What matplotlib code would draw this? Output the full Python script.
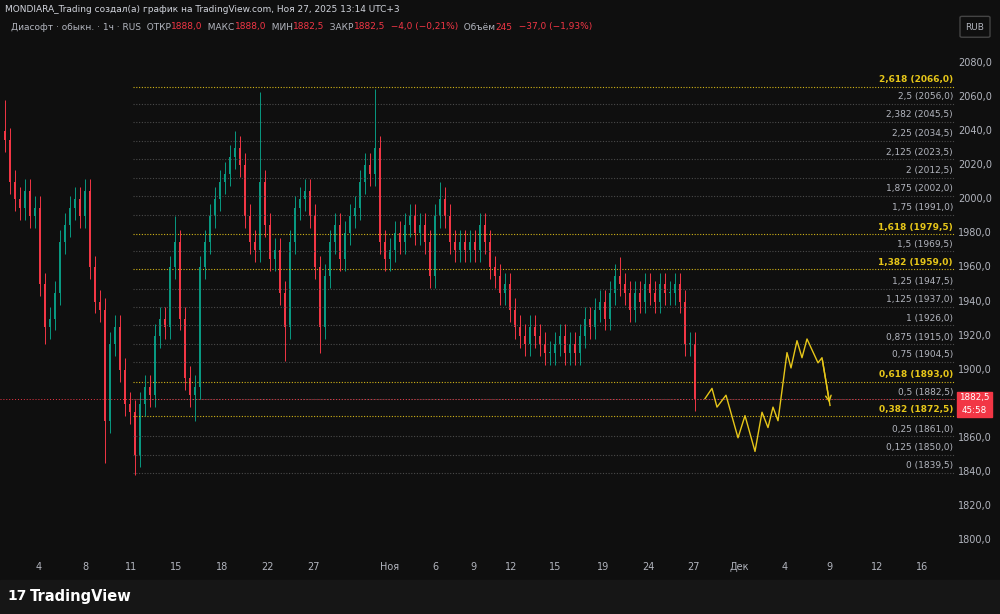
import matplotlib
matplotlib.use("Agg")
import matplotlib.pyplot as plt
from matplotlib.patches import Rectangle, FancyBboxPatch

# ---- data ----
bar_x = list(range(5, 700, 5))
closes = [2035,2010,2000,1995,2005,1990,1995,1950,1925,1930,1945,1975,1985,1995,2000,1990,2005,1960,1940,1935,
          1870,1915,1925,1900,1880,1875,1850,1880,1890,1885,1920,1930,1925,1960,1975,1930,1895,1885,1890,1960,
          1975,1990,2000,2010,2015,2025,2030,2020,1990,1975,1970,2010,1985,1965,1970,1945,1925,1975,1995,2000,
          2005,1990,1960,1925,1955,1975,1985,1965,1980,1990,1995,2010,2020,2015,2030,1975,1965,1970,1980,1975,
          1985,1990,1980,1985,1975,1955,1990,2000,1990,1975,1970,1975,1970,1975,1970,1985,1975,1960,1955,1945,
          1950,1935,1925,1920,1915,1925,1920,1915,1910,1910,1915,1920,1910,1915,1910,1920,1930,1925,1935,1940,
          1930,1945,1955,1950,1945,1935,1945,1940,1950,1945,1940,1950,1945,1945,1950,1940,1915,1915,1882.5]
first_open = 2040
high_spikes = {5: 2058, 260: 2063, 375: 2065, 440: 2010, 620: 1966, 235: 2040, 175: 1990, 480: 1990}
low_spikes = {135: 1838, 105: 1845, 285: 1905, 320: 1910, 195: 1870, 550: 1905, 45: 1915}
wick = 7

fib_ratios = ["2,618", "2,5", "2,382", "2,25", "2,125", "2", "1,875", "1,75", "1,618", "1,5", "1,382",
              "1,25", "1,125", "1", "0,875", "0,75", "0,618", "0,5", "0,382", "0,25", "0,125", "0"]
fib_prices = [2066.0, 2056.0, 2045.5, 2034.5, 2023.5, 2012.5, 2002.0, 1991.0, 1979.5, 1969.5, 1959.0,
              1947.5, 1937.0, 1926.0, 1915.0, 1904.5, 1893.0, 1882.5, 1872.5, 1861.0, 1850.0, 1839.5]
fib_gold = ["2,618", "1,618", "1,382", "0,618", "0,382"]

path_x = [705, 712, 717, 726, 738, 745, 755, 762, 768, 773, 778, 787, 791, 797, 802, 807, 818, 822, 830]
path_p = [1883, 1889, 1878, 1885, 1860, 1873, 1852, 1875, 1866, 1878, 1870, 1910, 1901, 1917, 1907, 1918, 1904, 1907, 1879]

xtick_pos = [39, 85, 131, 176, 222, 268, 314, 390, 435, 473, 511, 555, 603, 648, 693, 739, 785, 829, 877, 922]
xtick_lab = ["4", "8", "11", "15", "18", "22", "27", "Ноя", "6", "9", "12", "15", "19", "24", "27", "Дек", "4", "9", "12", "16"]
ytick_vals = list(range(1800, 2100, 20))
last_price = 1882.5

BG = "#0f0f0f"
GREEN = "#089981"
RED = "#f23645"
GOLD = "#e6c619"
GREY = "#4a4a4a"
TXT = "#b2b5be"

fig = plt.figure(figsize=(10, 6.14), dpi=100, facecolor=BG)
ax = fig.add_axes([0, 1 - 555 / 614, 0.955, (555 - 40) / 614], facecolor=BG)
ax.set_xlim(0, 955)
ax.set_ylim(1791.2, 2093.5)
for s in ax.spines.values():
    s.set_visible(False)
ax.set_xticks([]); ax.set_yticks([])

# fib levels
for r, p in zip(fib_ratios, fib_prices):
    g = r in fib_gold
    ax.hlines(p, 133, 955, colors=GOLD if g else GREY, linestyles=(0, (1, 1.5)), lw=0.8, alpha=0.9 if g else 1)
    ax.text(953, p + 1.5, f"{r} ({p:.1f})".replace(".", ","), ha="right", va="bottom", fontsize=6.5,
            color=GOLD if g else TXT, fontweight="bold" if g else "normal")

# candles
prev = first_open
for x, c in zip(bar_x, closes):
    o = prev
    col = GREEN if c >= o else RED
    hi = max(o, c) + wick
    lo = min(o, c) - wick
    hi = max(hi, high_spikes.get(x, hi))
    lo = min(lo, low_spikes.get(x, lo))
    ax.vlines(x, lo, hi, color=col, lw=0.7)
    ax.add_patch(Rectangle((x - 1.1, min(o, c)), 2.2, max(abs(c - o), 0.6), color=col, lw=0))
    prev = c

# current price line
ax.axhline(last_price, color=RED, lw=0.7, ls=(0, (1, 2)))

# projection path
ax.plot(path_x, path_p, color=GOLD, lw=1.0)
ax.annotate("", xy=(path_x[-1], path_p[-1]), xytext=(path_x[-2], path_p[-2]),
            arrowprops=dict(arrowstyle="->", color=GOLD, lw=1.0))

# right price axis
for v in ytick_vals:
    if 1791 < v < 2093 and abs(v - last_price) > 8:
        y = ax.transData.transform((0, v))[1] / fig.bbox.height
        fig.text(0.975, y, f"{v},0", ha="center", va="center", fontsize=7, color=TXT)
yl = ax.transData.transform((0, last_price))[1] / fig.bbox.height
fig.patches.append(Rectangle((0.957, yl - 0.029), 0.035, 0.041, transform=fig.transFigure, color=RED, zorder=5))
fig.text(0.9745, yl + 0.003, "1882,5", ha="center", va="center", fontsize=6.3, color="white", zorder=6)
fig.text(0.9745, yl - 0.0175, "45:58", ha="center", va="center", fontsize=6.3, color="white", zorder=6)
fig.patches.append(FancyBboxPatch((0.962, 1 - 36 / 614), 0.026, 0.03, boxstyle="round,pad=0.002",
                                  transform=fig.transFigure, fc=BG, ec="#444"))
fig.text(0.975, 1 - 28 / 614, "RUB", ha="center", va="center", fontsize=6.5, color=TXT)

# x ticks
for xp, lab in zip(xtick_pos, xtick_lab):
    fig.text(xp / 1000, 1 - 567 / 614, lab, ha="center", va="center", fontsize=7, color=TXT)

# header
fig.text(0.005, 1 - 9 / 614, "MONDIARA_Trading создал(а) график на TradingView.com, Ноя 27, 2025 13:14 UTC+3",
         fontsize=6.5, color="#d1d4dc", va="center")
parts = [("Диасофт · обыкн. · 1ч · RUS  ОТКР", TXT), ("1888,0", RED), ("  МАКС", TXT), ("1888,0", RED),
         ("  МИН", TXT), ("1882,5", RED), ("  ЗАКР", TXT), ("1882,5", RED), ("  −4,0 (−0,21%)", RED),
         ("  Объём", TXT), ("245", RED), ("  −37,0 (−1,93%)", RED)]
xx = 0.011
rend = fig.canvas.get_renderer()
for t, c in parts:
    tt = fig.text(xx, 1 - 27 / 614, t, fontsize=6.5, color=c, va="center")
    xx += tt.get_window_extent(rend).width / fig.bbox.width

# footer
fig.patches.append(Rectangle((0, 0), 1, 1 - 580 / 614, transform=fig.transFigure, color="#161616"))
fig.text(0.007, 1 - 596 / 614, "17", fontsize=10, color="white", va="center", fontweight="heavy")
fig.text(0.03, 1 - 596 / 614, "TradingView", fontsize=10.5, color="white", va="center", fontweight="bold")

fig.savefig("out.png", dpi=100, facecolor=BG)
